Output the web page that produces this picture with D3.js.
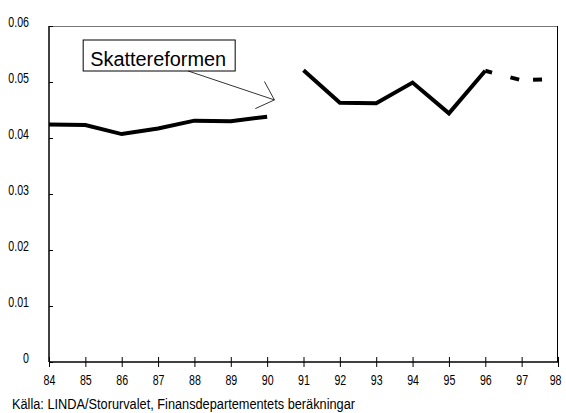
<!DOCTYPE html>
<html>
<head>
<meta charset="utf-8">
<script src="https://cdn.jsdelivr.net/npm/d3@7"></script>
<style>
  body { margin: 0; background: #fff; }
  svg { display: block; }
</style>
</head>
<body>
<div id="chart"></div>
<script>
// years on the x axis (two-digit labels)
var years = [84, 85, 86, 87, 88, 89, 90, 91, 92, 93, 94, 95, 96, 97, 98];
var yTicks = [0, 0.01, 0.02, 0.03, 0.04, 0.05, 0.06];

// series
var beforeYears = [84, 85, 86, 87, 88, 89, 90];
var beforeValues = [0.0424, 0.0423, 0.0407, 0.0417, 0.0431, 0.0430, 0.0438];
var afterYears = [91, 92, 93, 94, 95, 96];
var afterValues = [0.0521, 0.0463, 0.0462, 0.0499, 0.0444, 0.0520];
var forecastYears = [96, 97, 98];
var forecastValues = [0.0520, 0.0503, 0.0506];

var noteText = "Skattereformen";
var sourceText = "Källa: LINDA/Storurvalet, Finansdepartementets beräkningar";

var margin = { top: 26, right: 8, bottom: 51, left: 49 },
    width = 566 - margin.left - margin.right,
    height = 413 - margin.top - margin.bottom;

var sans = "'Liberation Sans', Arial, sans-serif";

// no condensed face installed, so squeeze the glyphs horizontally
function condense(sel, factor) {
  sel.each(function () {
    var w = this.getComputedTextLength();
    d3.select(this).attr("textLength", w * factor).attr("lengthAdjust", "spacingAndGlyphs");
  });
}

var svg = d3.select("#chart")
    .append("svg")
    .attr("width", width + margin.left + margin.right)
    .attr("height", height + margin.top + margin.bottom);

var g = svg.append("g")
    .attr("transform", "translate(" + margin.left + "," + margin.top + ")");

var x = d3.scaleLinear().domain([84, 98]).range([0, width]);
var y = d3.scaleLinear().domain([0, 0.06]).range([height, 0]);

// frame: grey top, black right
g.append("line")
    .attr("x1", 0).attr("x2", width).attr("y1", 0.5).attr("y2", 0.5)
    .attr("stroke", "#777").attr("stroke-width", 1);
g.append("line")
    .attr("x1", width - 0.5).attr("x2", width - 0.5).attr("y1", 0).attr("y2", height)
    .attr("stroke", "#000").attr("stroke-width", 1);

// Y axis, ticks inside
var yAxis = g.append("g")
    .call(d3.axisRight(y).tickValues(yTicks).tickSize(4).tickFormat(function (d) {
      return d === 0 ? "0" : d3.format(".2f")(d);
    }));
yAxis.select(".domain").attr("stroke", "#000").attr("stroke-width", 1.5).attr("d", "M0,0V" + height);
yAxis.selectAll(".tick line").attr("stroke", "#000");
yAxis.selectAll(".tick text")
    .attr("x", -20).attr("dy", "0.05em")
    .attr("text-anchor", "end")
    .style("font-family", sans).style("font-size", "14px").attr("fill", "#000")
    .call(condense, 0.76);

// X axis, ticks cross the line
var xAxis = g.append("g")
    .attr("transform", "translate(0," + height + ")")
    .call(d3.axisBottom(x).tickValues(years).tickSize(5).tickFormat(d3.format("d")));
xAxis.select(".domain").attr("stroke", "#000").attr("stroke-width", 1.5).attr("d", "M0,0H" + width);
xAxis.selectAll(".tick line").attr("y1", -5).attr("stroke", "#000");
xAxis.selectAll(".tick text")
    .attr("y", 13)
    .style("font-family", sans).style("font-size", "14px").attr("fill", "#000")
    .call(condense, 0.76);
// last label sits on the window edge; keep it inside
xAxis.selectAll(".tick text").filter(function (d) { return d === 98; })
    .attr("text-anchor", "end").attr("x", 3);

var line = d3.line()
    .x(function (d) { return x(d[0]); })
    .y(function (d) { return y(d[1]); });

function pairs(xs, vs) { return xs.map(function (v, i) { return [v, vs[i]]; }); }

g.append("path")
    .datum(pairs(beforeYears, beforeValues))
    .attr("fill", "none").attr("stroke", "#000").attr("stroke-width", 4)
    .attr("stroke-linejoin", "miter")
    .attr("d", line);

g.append("path")
    .datum(pairs(afterYears, afterValues))
    .attr("fill", "none").attr("stroke", "#000").attr("stroke-width", 4)
    .attr("stroke-linejoin", "miter")
    .attr("d", line);

g.append("path")
    .datum(pairs(forecastYears, forecastValues))
    .attr("fill", "none").attr("stroke", "#000").attr("stroke-width", 4)
    .attr("stroke-dasharray", "7,19,9,14,9,60")
    .attr("d", line);

// annotation box + arrow
var boxX = x(84.94), boxY = y(0.0575), boxW = 152, boxH = 31;
g.append("rect")
    .attr("x", boxX).attr("y", boxY).attr("width", boxW).attr("height", boxH)
    .attr("fill", "#fff").attr("stroke", "#000").attr("stroke-width", 1);
g.append("text")
    .attr("x", boxX + 7).attr("y", boxY + 26)
    .attr("textLength", 136).attr("lengthAdjust", "spacingAndGlyphs")
    .style("font-family", sans).style("font-size", "20px")
    .text(noteText);

var ax0 = boxX + 105, ay0 = boxY + boxH,
    ax1 = x(90.2), ay1 = y(0.0468);
var ang = Math.atan2(ay0 - ay1, ax0 - ax1), armLen = 21, spread = 43 * Math.PI / 180;
g.append("path")
    .attr("fill", "none").attr("stroke", "#000").attr("stroke-width", 0.8)
    .attr("d", "M" + ax0 + "," + ay0 + "L" + ax1 + "," + ay1 +
        "M" + (ax1 + armLen * Math.cos(ang + spread)) + "," + (ay1 + armLen * Math.sin(ang + spread)) +
        "L" + ax1 + "," + ay1 +
        "L" + (ax1 + armLen * Math.cos(ang - spread)) + "," + (ay1 + armLen * Math.sin(ang - spread)));

// source line
svg.append("text")
    .attr("x", 12).attr("y", 409)
    .attr("textLength", 343).attr("lengthAdjust", "spacingAndGlyphs")
    .style("font-family", sans).style("font-size", "14px")
    .text(sourceText);
</script>
</body>
</html>
